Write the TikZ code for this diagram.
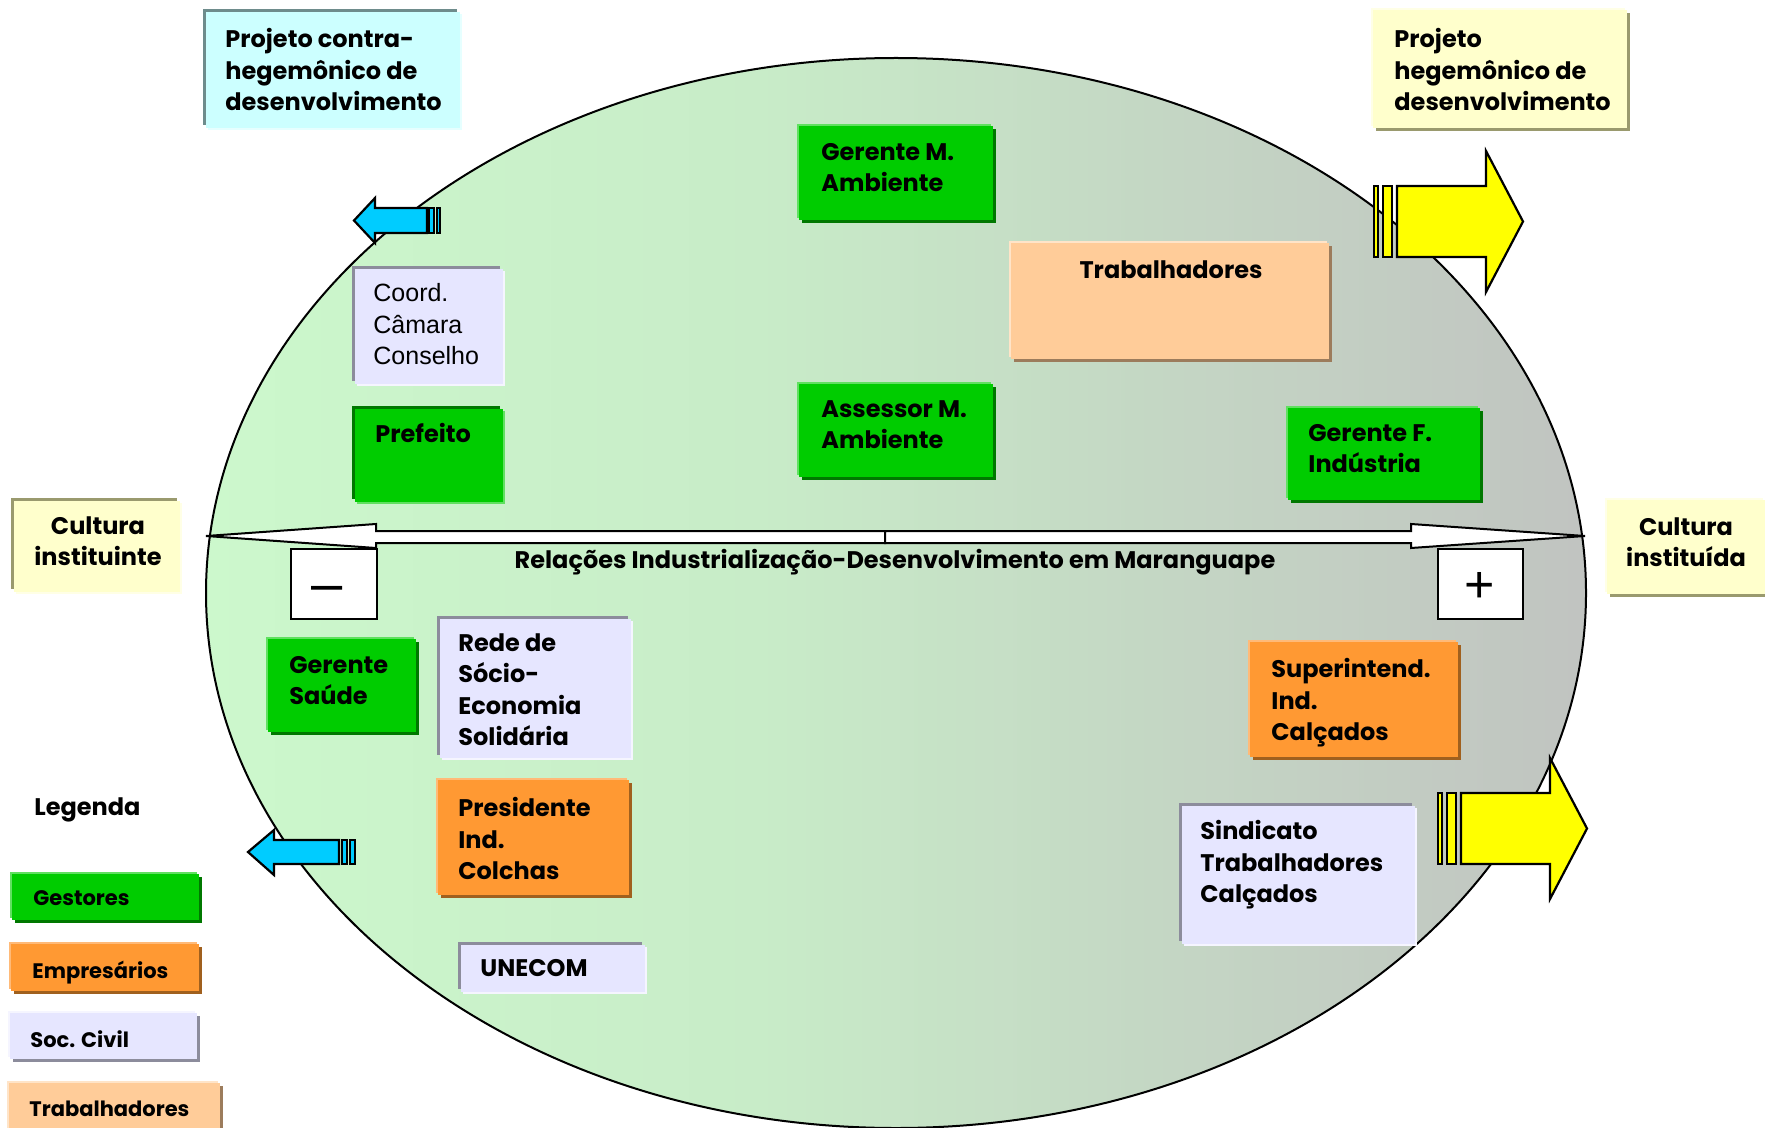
\documentclass[tikz,border=0pt]{standalone}
\usepackage{fontspec}
\setmainfont{Poppins}
\newfontfamily\plainfont{Liberation Sans}
\usetikzlibrary{calc}

% box palettes: fill, shadow edge, highlight edge
\definecolor{gfill}{HTML}{00CC00}\definecolor{gdark}{HTML}{007800}\definecolor{glight}{HTML}{60E060}
\definecolor{ofill}{HTML}{FF9933}\definecolor{odark}{HTML}{A0601E}\definecolor{olight}{HTML}{FFBA78}
\definecolor{lfill}{HTML}{E6E6FF}\definecolor{ldark}{HTML}{8C8C9C}\definecolor{llight}{HTML}{F5F5FF}
\definecolor{pfill}{HTML}{FFCC99}\definecolor{pdark}{HTML}{9C7C5C}\definecolor{plight}{HTML}{FFE4C8}
\definecolor{yfill}{HTML}{FFFFCC}\definecolor{ydark}{HTML}{9A9A6E}\definecolor{ylight}{HTML}{FFFFE6}
\definecolor{cfill}{HTML}{CCFFFF}\definecolor{cdark}{HTML}{6E8C8C}\definecolor{clight}{HTML}{E6FFFF}
\definecolor{arblue}{HTML}{00CCFF}
\definecolor{aryellow}{HTML}{FFFF00}
% field colours, left to right
\definecolor{e1}{HTML}{CCF8CC}\definecolor{e2}{HTML}{C8ECC8}
\definecolor{e3}{HTML}{C4D6C4}\definecolor{e4}{HTML}{C0C0C0}
\pgfdeclarehorizontalshading{fieldshade}{100bp}{color(0bp)=(e1); color(25bp)=(e1); color(45bp)=(e2); color(60bp)=(e3); color(78bp)=(e4); color(100bp)=(e4)}

% bevelled panel: #1 palette, #2 bevel direction (1 = shadow lower right, -1 = upper left), corners
\newcommand\drawpanel[6]{%
  \fill[#1dark, shift={({3*#2},{3*#2})}] (#3,#4) rectangle (#5,#6);
  \fill[#1light, shift={({-2*#2},{-2*#2})}] (#3,#4) rectangle (#5,#6);
  \fill[#1fill] (#3,#4) rectangle (#5,#6);}

\tikzset{
  txt/.style={inner sep=0pt, anchor=north west, align=left, text=black,
    font=\bfseries\fontsize{12}{15.75}\selectfont},
  ctxt/.style={txt, anchor=north, align=center},
  plaintxt/.style={txt, font=\plainfont\fontsize{12.5}{15.75}\selectfont},
  legtxt/.style={txt, font=\bfseries\fontsize{10.5}{13}\selectfont},
  blockarrow/.style={draw=black, line width=1.1pt, line join=miter},
  signbox/.style={draw=black, fill=white, line width=1pt},
}

\begin{document}
\begin{tikzpicture}[x=0.5pt, y=-0.5pt]
\useasboundingbox (0,0) rectangle (1765,1128);
\fill[white] (0,0) rectangle (1765,1128);

% the field
\shade[shading=fieldshade] (896,593) ellipse [x radius=345pt, y radius=267.5pt];
\draw[line width=1pt] (896,593) ellipse [x radius=345pt, y radius=267.5pt];

% outward arrows
\draw[blockarrow, fill=arblue] (354,220.5) -- (375,198) -- (375,208) -- (427,208) -- (427,233) -- (375,233) -- (375,243) -- cycle;
\draw[blockarrow, fill=arblue] (429,208) rectangle (434,233);
\draw[blockarrow, fill=arblue] (437,208) rectangle (440,233);

\draw[blockarrow, fill=arblue] (248,852) -- (274,830) -- (274,840) -- (339,840) -- (339,864) -- (274,864) -- (274,875) -- cycle;
\draw[blockarrow, fill=arblue] (342,840) rectangle (347,864);
\draw[blockarrow, fill=arblue] (350,840) rectangle (355,864);

\draw[blockarrow, fill=aryellow] (1523,221.5) -- (1486,151) -- (1486,186) -- (1397,186) -- (1397,257) -- (1486,257) -- (1486,292) -- cycle;
\draw[blockarrow, fill=aryellow] (1374,186) rectangle (1378,257);
\draw[blockarrow, fill=aryellow] (1383,186) rectangle (1392,257);

\draw[blockarrow, fill=aryellow] (1587,828.5) -- (1550,758) -- (1550,793) -- (1461,793) -- (1461,864) -- (1550,864) -- (1550,899) -- cycle;
\draw[blockarrow, fill=aryellow] (1438,793) rectangle (1442,864);
\draw[blockarrow, fill=aryellow] (1447,793) rectangle (1456,864);

% axis
\coordinate (axisL) at (206,536);
\coordinate (axisR) at (1585,536);
\coordinate (axisM) at (885,537);
\draw[blockarrow, fill=white, line width=1pt] (axisL) -- (376,524) -- (376,531) -- (885,531) -- (885,543) -- (376,543) -- (376,548) -- cycle;
\draw[blockarrow, fill=white, line width=1pt] (axisR) -- (1411,524) -- (1411,531) -- (885,531) -- (885,543) -- (1411,543) -- (1411,548) -- cycle;
\node[ctxt] (axislabel) at (895,549) {Relações Industrialização-Desenvolvimento em Maranguape};

\draw[signbox] (291,549) rectangle (377,619);
\node[inner sep=0pt, font=\plainfont\fontsize{28}{28}\selectfont] (minus) at (327,594) {–};
\draw[signbox] (1438,549) rectangle (1523,619);
\node[inner sep=0pt, font=\plainfont\fontsize{26}{26}\selectfont] (plus) at (1480,587) {+};

% projects
\drawpanel{c}{-1}{206}{12}{460}{128}
\node[txt] (contra) at (225,28) {Projeto contra-\\hegemônico de\\desenvolvimento};
\drawpanel{y}{1}{1373}{10}{1627}{128}
\node[txt] (hegem) at (1394,28) {Projeto\\hegemônico de\\desenvolvimento};

% cultures
\drawpanel{y}{-1}{14}{501}{180}{592}
\node[ctxt] (instituinte) at (98,516) {Cultura\\instituinte};
\drawpanel{y}{1}{1607}{500}{1765}{594}
\node[ctxt] (instituida) at (1686,517) {Cultura\\instituída};

% actors above the axis
\drawpanel{g}{1}{799}{126}{993}{220}
\node[txt] (gerenteMA) at (821,143) {Gerente M.\\Ambiente};
\drawpanel{p}{1}{1011}{243}{1329}{359}
\node[ctxt] (trab) at (1171,260) {Trabalhadores};
\drawpanel{l}{-1}{355}{269}{503}{384}
\node[plaintxt] (coord) at (373,283) {Coord.\\Câmara\\Conselho};
\drawpanel{g}{-1}{355}{409}{503}{502}
\node[txt] (prefeito) at (375,423) {Prefeito};
\drawpanel{g}{1}{799}{384}{993}{477}
\node[txt] (assessor) at (821,400) {Assessor M.\\Ambiente};
\drawpanel{g}{1}{1288}{408}{1480}{500}
\node[txt] (gerenteFI) at (1308,424) {Gerente F.\\Indústria};

% actors below the axis
\drawpanel{g}{1}{268}{639}{416}{732}
\node[txt] (saude) at (289,656) {Gerente\\Saúde};
\drawpanel{l}{-1}{440}{619}{631}{758}
\node[txt] (rede) at (458,633) {Rede de\\Sócio-\\Economia\\Solidária};
\drawpanel{o}{1}{438}{780}{629}{895}
\node[txt] (presidente) at (458,797) {Presidente\\Ind.\\Colchas};
\drawpanel{l}{-1}{461}{945}{645}{992}
\node[txt] (unecom) at (480,959) {UNECOM};
\drawpanel{o}{1}{1250}{642}{1458}{757}
\node[txt] (superint) at (1271,658) {Superintend.\\Ind.\\Calçados};
\drawpanel{l}{-1}{1182}{806}{1415}{944}
\node[txt] (sindicato) at (1200,820) {Sindicato\\Trabalhadores\\Calçados};

% legend
\node[txt] (legenda) at (34,797) {Legenda};
\drawpanel{g}{1}{12}{874}{199}{920}
\node[legtxt] (legG) at (33,890) {Gestores};
\drawpanel{o}{1}{11}{944}{199}{991}
\node[legtxt] (legO) at (32,961) {Empresários};
\drawpanel{l}{1}{10}{1013}{197}{1059}
\node[legtxt] (legL) at (30,1030) {Soc. Civil};
\drawpanel{p}{1}{9}{1083}{220}{1140}
\node[legtxt] (legP) at (29,1101) {Trabalhadores};
\end{tikzpicture}
\end{document}
